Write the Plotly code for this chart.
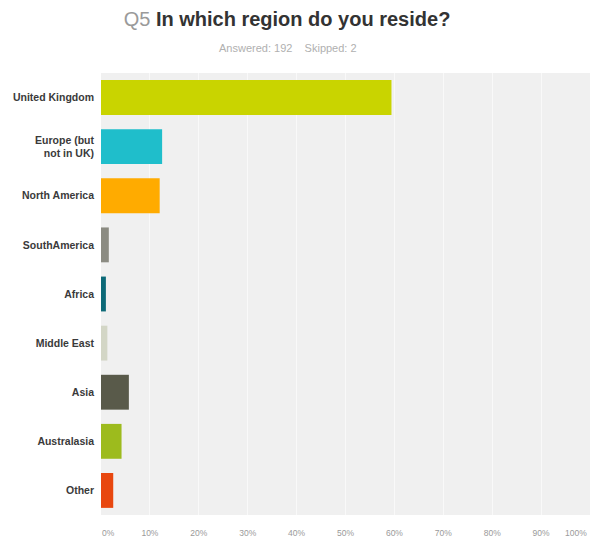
import plotly.graph_objects as go

regions = ["United Kingdom", "Europe (but<br>not in UK)", "North America", "SouthAmerica",
           "Africa", "Middle East", "Asia", "Australasia", "Other"]
percent = [59.4, 12.5, 12.0, 1.6, 1.0, 1.3, 5.7, 4.2, 2.5]
colors = ["#c9d400", "#1fbecb", "#ffab00", "#8b8b82", "#0d6a78",
          "#d3d6c6", "#595a4a", "#9dbb1d", "#e8470f"]
x_ticks = [0, 10, 20, 30, 40, 50, 60, 70, 80, 90, 100]
x_tick_labels = [f"{t}%" for t in x_ticks]

# the first label is padded so it sits right of the axis start; the last one is
# drawn as a right-anchored annotation on its tick value so it stays in the page
shown_tick_text = ["&nbsp;" * 6 + x_tick_labels[0]] + x_tick_labels[1:-1] + [""]

fig = go.Figure(go.Bar(
    y=regions, x=percent, orientation="h",
    marker=dict(color=colors, line=dict(width=0)),
    hoverinfo="skip",
))

fig.update_layout(
    width=592, height=539,
    margin=dict(l=101, r=2, t=73, b=24, autoexpand=False),
    paper_bgcolor="white",
    plot_bgcolor="#f0f0f0",
    bargap=0.29,
    showlegend=False,
    font=dict(family="Liberation Sans, Arial, sans-serif"),
    title=dict(
        text="<span style='color:#9a9a9a'>Q5</span> <b>In which region do you reside?</b>",
        x=287 / 592, xref="container", xanchor="center",
        y=1 - 19 / 539, yref="container", yanchor="middle",
        font=dict(size=20, color="#333333", family="Liberation Sans, Arial, sans-serif"),
    ),
    annotations=[
        dict(
            text="Answered: 192&nbsp;&nbsp;&nbsp;&nbsp;Skipped: 2",
            xref="paper", yref="paper",
            x=(288 - 101) / 489, y=1 + (73 - 48) / 442,
            xanchor="center", yanchor="middle", showarrow=False,
            font=dict(size=11, color="#b0b0b0"),
        ),
        dict(
            text=x_tick_labels[-1],
            xref="x", yref="paper",
            x=x_ticks[-1], y=-18 / 442,
            xanchor="right", yanchor="middle", showarrow=False, xshift=-1,
            font=dict(size=8.5, color="#9a9a9a"),
        ),
    ],
)

fig.update_xaxes(
    range=[0, 100], tickvals=x_ticks, ticktext=shown_tick_text,
    showgrid=True, gridcolor="#f9f9f9", gridwidth=1,
    zeroline=False, showline=False, ticks="",
    tickfont=dict(size=8.5, color="#9a9a9a"),
    ticklabelstandoff=11, fixedrange=True, automargin=False,
)
fig.update_yaxes(
    categoryorder="array", categoryarray=regions, autorange="reversed",
    showgrid=False, zeroline=False, showline=False, ticks="",
    tickfont=dict(size=10.5, color="#3a3a3a", family="Liberation Sans, Arial, sans-serif"),
    ticklabelstandoff=6, fixedrange=True, automargin=False,
    tickmode="array", tickvals=regions,
    ticktext=[f"<b>{r}</b>".replace("<br>", "</b><br><b>") for r in regions],
)

fig.write_html("out.html", config={"displayModeBar": False},
               post_script="document.body.style.margin='0';")
